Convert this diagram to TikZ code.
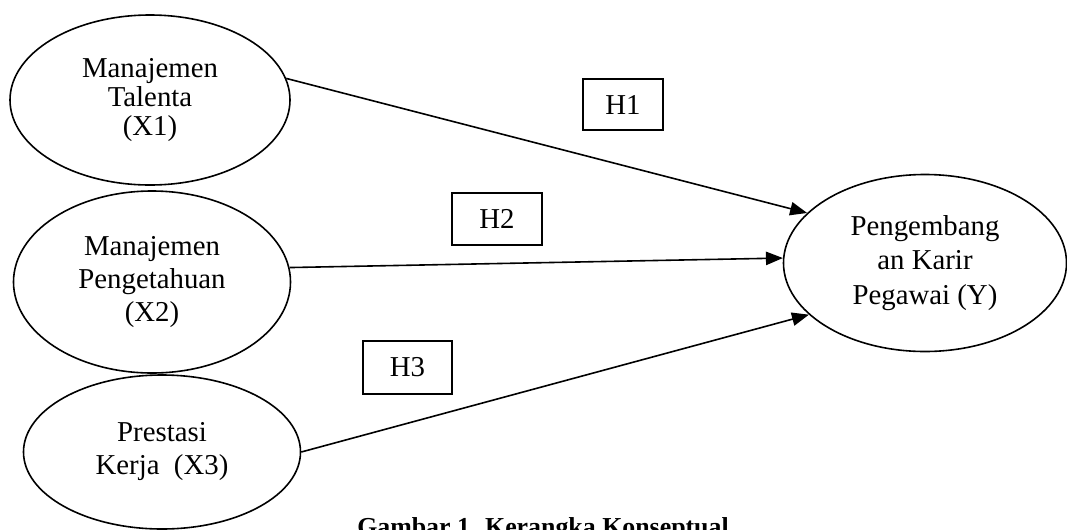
\documentclass[tikz,border=0pt]{standalone}
\usepackage{fontspec}
\setmainfont{Liberation Serif}
\usetikzlibrary{arrows.meta,shapes.geometric}

\begin{document}
\begin{tikzpicture}[x=0.75pt,y=-0.75pt,
  var/.style={draw,ellipse,line width=1.2pt,inner sep=0pt,align=center,
    font=\fontsize{21.6}{24.75}\selectfont},
  hyp/.style={draw,rectangle,line width=0.9pt,inner sep=0pt,
    font=\fontsize{21.6}{24.75}\selectfont},
  link/.style={line width=1.2pt,-{Triangle[length=12.75pt,width=10pt]}}]
\useasboundingbox (0,0) rectangle (1067,529);

% variabel
\node[var,minimum width=210pt,minimum height=127.5pt,
  font=\fontsize{21.6}{21.4}\selectfont] (x1) at (150,100) {Manajemen\\Talenta\\(X1)};
\node[var,minimum width=207.75pt,minimum height=136.5pt] (x2) at (152,282) {Manajemen\\Pengetahuan\\(X2)};
\node[var,minimum width=207.75pt,minimum height=115.5pt] (x3) at (162,452) {Prestasi\\Kerja\ \ (X3)};
\node[var,minimum width=212.25pt,minimum height=132.75pt,
  font=\fontsize{21.6}{26}\selectfont] (y) at (925,263) {Pengembang\\an Karir\\Pegawai (Y)};

% hipotesis
\node[hyp,minimum width=60pt,minimum height=38.25pt] (h1) at (623,104.5) {H1};
\node[hyp,minimum width=67.5pt,minimum height=39pt] (h2) at (497,219) {H2};
\node[hyp,minimum width=66.75pt,minimum height=39.75pt] (h3) at (407.5,367.5) {H3};

\draw[link] (x1.9) -- (y.157);
\draw[link] (x2.6) -- (y.178);
\draw[link] (x3.east) -- (y.204);

\node[anchor=base,font=\fontsize{19.4}{23}\selectfont\bfseries] (cap) at (543,535) {Gambar 1. Kerangka Konseptual};
\end{tikzpicture}
\end{document}
